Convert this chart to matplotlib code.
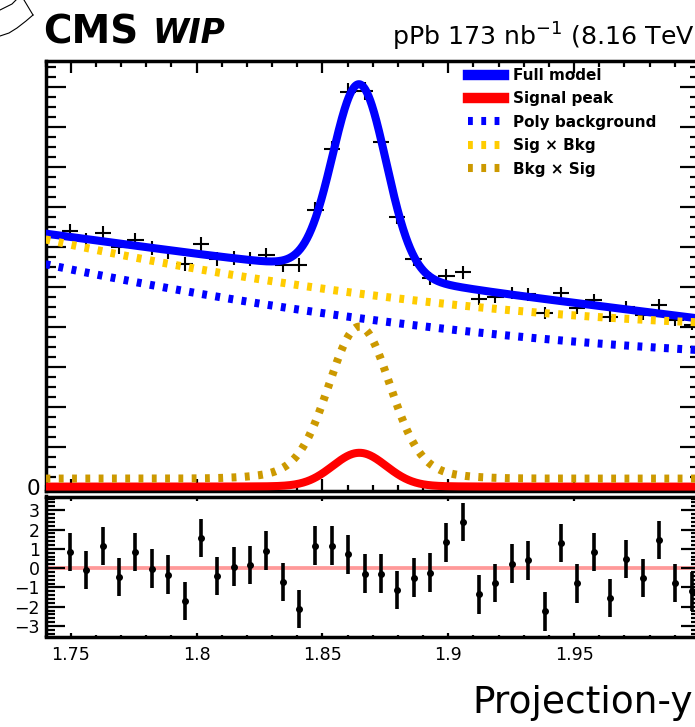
import numpy as np
import matplotlib.pyplot as plt
from matplotlib.lines import Line2D
from matplotlib.ticker import MultipleLocator, FuncFormatter

plt.rcParams["font.family"] = ["DejaVu Sans"]

# binning of the projection (39 bins of 0.0065)
edges = np.linspace(1.7465, 2.0, 40)
centres = 0.5 * (edges[:-1] + edges[1:])
half_width = 0.5 * (edges[1] - edges[0])

# pull per bin: (data - fit) / error
pulls = np.array([
    0.84, -0.10, 1.14, -0.45, 0.84, -0.03, -0.34, -1.71, 1.57, -0.41,
    0.07, 0.17, 0.91, -0.72, -2.12, 1.16, 1.16, 0.71, -0.28, -0.28,
    -1.14, -0.50, -0.24, 1.34, 2.38, -1.36, -0.76, 0.24, 0.41, -2.24,
    1.31, -0.79, 0.83, -1.55, 0.48, -0.52, 1.45, -0.76, -1.20,
])

# fitted shapes (quadratics are in x - 1.74)
x_ref = 1.74
peak_mean = 1.8647
full_bkg = [1265, -1700, 250]
full_amp = 955
narrow = (0.0106, 0.025, 0.02)   # core width, tail width, tail fraction
signal_amp = 169
poly_coef = [1112, -2640, 3800]
sig_bkg_coef = [1236, -2708, 4279]
bkg_sig_floor = 40
bkg_sig_amp = 760
wide = (0.0118, 0.022, 0.10)


def quad(x, c):
    u = x - x_ref
    return c[0] + c[1] * u + c[2] * u ** 2


def peak(x, core, tail, frac):
    g = lambda s: np.exp(-0.5 * ((x - peak_mean) / s) ** 2)
    return (1 - frac) * g(core) + frac * g(tail)


def full_model(x):
    return quad(x, full_bkg) + full_amp * peak(x, *narrow)


xs = np.linspace(1.74, 2.0, 1200)
full = full_model(xs)
signal = signal_amp * peak(xs, *narrow)
poly = quad(xs, poly_coef)
sig_x_bkg = quad(xs, sig_bkg_coef)
bkg_x_sig = bkg_sig_floor + bkg_sig_amp * peak(xs, *wide)

# event counts per bin, recovered from the pulls
expected = full_model(centres)
counts = expected + pulls * np.sqrt(expected)

W, H = 695.0, 727.0
fig = plt.figure(figsize=(W / 100, H / 100), dpi=100)


def frame(left, top, right, bottom):
    return [left / W, 1 - bottom / H, (right - left) / W, (bottom - top) / H]


ax = fig.add_axes(frame(45.5, 61, 700, 490.8))
axr = fig.add_axes(frame(45.5, 496.5, 700, 636.5))

dots = (0, (0.6, 1.05))
lw = 5.8
ax.errorbar(centres, counts, yerr=np.sqrt(counts), xerr=half_width,
            fmt="none", ecolor="black", elinewidth=1.5, capsize=0, zorder=2)
ax.plot(xs, full, color="#0000ff", lw=lw, label="Full model", zorder=3)
ax.plot(xs, signal, color="#ff0000", lw=lw, label="Signal peak", zorder=4)
ax.plot(xs, poly, color="#0000ff", lw=lw, ls=dots,
        label="Poly background", zorder=5)
ax.plot(xs, sig_x_bkg, color="#ffcc00", lw=lw, ls=dots,
        label="Sig \u00d7 Bkg", zorder=6)
ax.plot(xs, bkg_x_sig, color="#cc9900", lw=lw, ls=dots,
        label="Bkg \u00d7 Sig", zorder=7)

ax.set_xlim(1.74, 2.0)
ax.set_ylim(-21, 2128)
ax.yaxis.set_major_locator(MultipleLocator(200))
ax.yaxis.set_minor_locator(MultipleLocator(50))
ax.yaxis.set_major_formatter(FuncFormatter(lambda v, p: "0" if abs(v) < 1e-6 else ""))

leg = ax.legend(loc="upper left", bbox_to_anchor=(468 / W, 1 - 68 / H),
                bbox_transform=fig.transFigure, frameon=False, borderpad=0,
                borderaxespad=0, handlelength=2.33, handletextpad=0.6,
                labelspacing=0.55, prop={"weight": "bold", "size": 11})
for h in leg.legend_handles[:2]:
    h.set_linewidth(7.5)

axr.axhline(0, color=(1, 0, 0, 0.4), lw=2.7, zorder=1)
axr.errorbar(centres, pulls, yerr=1, fmt="o", color="black", ms=4,
             elinewidth=2.6, capsize=0, zorder=3)
axr.set_xlim(1.74, 2.0)
axr.set_ylim(-3.54, 3.71)
axr.yaxis.set_major_locator(MultipleLocator(1))
axr.yaxis.set_minor_locator(MultipleLocator(0.2))
axr.xaxis.set_major_formatter(FuncFormatter(lambda v, p: "%g" % round(v, 3)))

for a in (ax, axr):
    for s in a.spines.values():
        s.set_linewidth(2.5)
    a.xaxis.set_major_locator(MultipleLocator(0.05))
    a.xaxis.set_minor_locator(MultipleLocator(0.01))
    a.tick_params(which="both", direction="in", top=True, right=True,
                  width=1.6, color="black")

ax.tick_params(axis="x", which="major", length=8.6, labelbottom=False)
ax.tick_params(axis="x", which="minor", length=4.3)
ax.tick_params(axis="y", which="major", length=14.4, labelsize=15.5, pad=4)
ax.tick_params(axis="y", which="minor", length=7.2)
axr.tick_params(axis="x", which="major", length=3, labelsize=12.6, pad=6.5)
axr.tick_params(axis="x", which="minor", length=1.5)
axr.tick_params(axis="y", which="major", length=13.7, labelsize=12.5, pad=4)
axr.tick_params(axis="y", which="minor", length=6.5)

fig.text(43 / W, 1 - 43 / H, "CMS", fontsize=28, fontweight="bold",
         ha="left", va="baseline")
fig.text(152 / W, 1 - 43 / H, "WIP", fontsize=23.8, fontweight="bold",
         fontstyle="italic", ha="left", va="baseline")
fig.text(703 / W, 1 - 46 / H, r"pPb 173 nb$^{-1}$ (8.16 TeV)", fontsize=18.2,
         ha="right", va="baseline")
fig.text(472 / W, 1 - 712.7 / H, "Projection-y", fontsize=27,
         ha="left", va="baseline")

# small pen stroke in the top-left corner
corner_x = [[0, 6, 12, 16], [24, 33], [33, 26, 17, 9, 0]]
corner_y = [[10, 7, 4, 0], [0, 15], [15, 21, 28, 33, 36]]
for cx, cy in zip(corner_x, corner_y):
    fig.add_artist(Line2D(np.array(cx) / W, 1 - np.array(cy) / H,
                          transform=fig.transFigure, color="black", lw=0.8))

fig.savefig("out.png", dpi=100)
